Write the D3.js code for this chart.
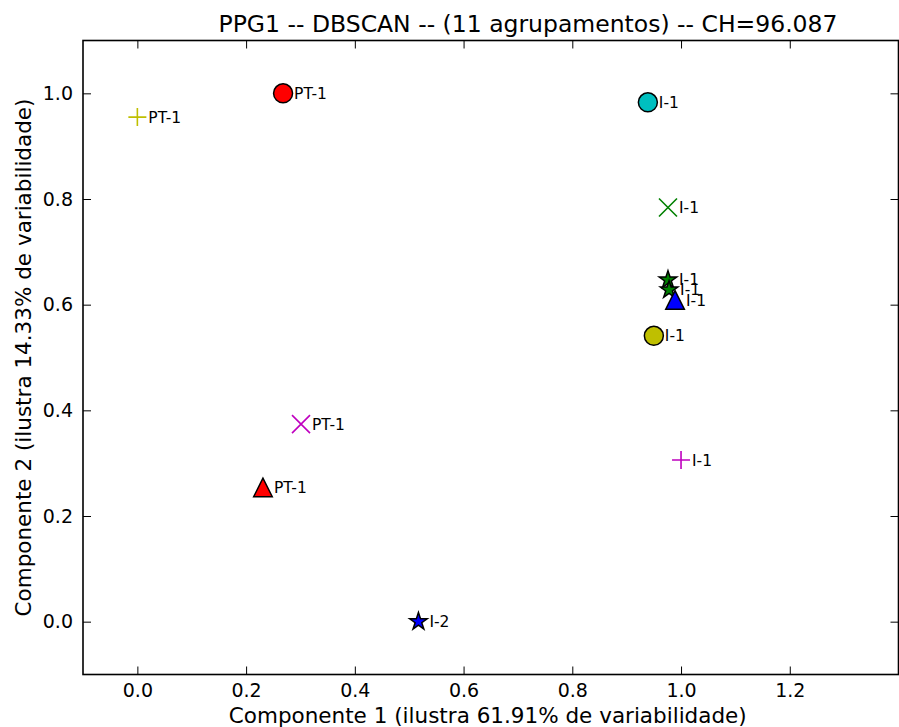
<!DOCTYPE html>
<html>
<head>
<meta charset="utf-8">
<script src="https://cdn.jsdelivr.net/npm/d3@7"></script>
<style>
  html, body { margin: 0; padding: 0; background: #fff; }
  svg { display: block; font-family: "DejaVu Sans", sans-serif; }
</style>
</head>
<body>
<svg id="chart" width="899" height="727"></svg>
<script>
// Dados dos pontos (componentes principais)
const pointX = [0.0, 0.268, 0.939, 0.976, 0.976, 0.978, 0.989, 0.950, 1.0, 0.301, 0.231, 0.517];
const pointY = [0.955, 1.0, 0.983, 0.784, 0.647, 0.628, 0.609, 0.541, 0.306, 0.374, 0.254, 0.0];
const pointLabels = ['PT-1', 'PT-1', 'I-1', 'I-1', 'I-1', 'I-1', 'I-1', 'I-1', 'I-1', 'PT-1', 'PT-1', 'I-2'];
const pointMarkers = ['plus', 'circle', 'circle', 'x', 'star', 'star', 'triangle', 'circle', 'plus', 'x', 'triangle', 'star'];
const pointColors = ['#bfbf00', '#ff0000', '#00bfbf', '#008000', '#008000', '#008000', '#0000ff', '#bfbf00', '#bf00bf', '#bf00bf', '#ff0000', '#0000ff'];

const xTicks = [0.0, 0.2, 0.4, 0.6, 0.8, 1.0, 1.2];
const yTicks = [0.0, 0.2, 0.4, 0.6, 0.8, 1.0];

const titleText = 'PPG1 -- DBSCAN -- (11 agrupamentos) -- CH=96.087';
const xLabel = 'Componente 1 (ilustra 61.91% de variabilidade)';
const yLabel = 'Componente 2 (ilustra 14.33% de variabilidade)';

// Área do gráfico
const plot = { left: 83, right: 898.5, top: 40.5, bottom: 674.5 };

const svg = d3.select('#chart');

const x = d3.scaleLinear().domain([-0.1, 1.4]).range([plot.left, plot.right]);
const y = d3.scaleLinear().domain([-0.1, 1.1]).range([plot.bottom, plot.top]);

// Eixos com ticks para dentro
const fmt = d3.format('.1f');

const axisStyle = (g, fontSize) => {
    g.select('.domain').remove();
    g.selectAll('.tick line').attr('stroke', '#000').attr('stroke-width', 1);
    g.selectAll('.tick text')
        .attr('fill', '#000')
        .style('font-size', fontSize + 'px')
        .style('font-family', '"DejaVu Sans", sans-serif');
};

svg.append('g')
    .attr('transform', `translate(0,${plot.bottom})`)
    .call(d3.axisBottom(x).tickValues(xTicks).tickFormat(fmt).tickSize(-8).tickPadding(9))
    .call(g => axisStyle(g, 19));

svg.append('g')
    .attr('transform', `translate(0,${plot.top})`)
    .call(d3.axisTop(x).tickValues(xTicks).tickFormat('').tickSize(-8))
    .call(g => axisStyle(g, 19));

svg.append('g')
    .attr('transform', `translate(${plot.left},0)`)
    .call(d3.axisLeft(y).tickValues(yTicks).tickFormat(fmt).tickSize(-8).tickPadding(10))
    .call(g => axisStyle(g, 19));

svg.append('g')
    .attr('transform', `translate(${plot.right},0)`)
    .call(d3.axisRight(y).tickValues(yTicks).tickFormat('').tickSize(-8))
    .call(g => axisStyle(g, 19));

// Moldura
svg.append('rect')
    .attr('x', plot.left)
    .attr('y', plot.top)
    .attr('width', plot.right - plot.left)
    .attr('height', plot.bottom - plot.top)
    .attr('fill', 'none')
    .attr('stroke', '#000')
    .attr('stroke-width', 1.6);

// Formas dos marcadores
function starPath(r) {
    const pts = [];
    for (let i = 0; i < 10; i++) {
        const rr = i % 2 === 0 ? r : r * 0.381966;
        const a = -Math.PI / 2 + i * Math.PI / 5;
        pts.push([rr * Math.cos(a), rr * Math.sin(a)]);
    }
    return 'M' + pts.map(p => p.join(',')).join('L') + 'Z';
}

function trianglePath(s) {
    return `M0,${-s}L${-s},${s}L${s},${s}Z`;
}

const data = pointX.map((v, i) => ({
    x: v, y: pointY[i], label: pointLabels[i], marker: pointMarkers[i], color: pointColors[i]
}));

const pts = svg.append('g').attr('class', 'points');

data.forEach(d => {
    const g = pts.append('g').attr('transform', `translate(${x(d.x)},${y(d.y)})`);
    if (d.marker === 'circle') {
        g.append('circle').attr('r', 9.5)
            .attr('fill', d.color).attr('stroke', '#000').attr('stroke-width', 1.5);
    } else if (d.marker === 'star') {
        g.append('path').attr('d', starPath(9.2))
            .attr('fill', d.color).attr('stroke', '#000').attr('stroke-width', 1.5)
            .attr('stroke-linejoin', 'miter');
    } else if (d.marker === 'triangle') {
        g.append('path').attr('d', trianglePath(9.3))
            .attr('fill', d.color).attr('stroke', '#000').attr('stroke-width', 1.5);
    } else if (d.marker === 'plus') {
        g.append('path').attr('d', 'M-9,0L9,0M0,-9L0,9')
            .attr('stroke', d.color).attr('stroke-width', 1.6).attr('fill', 'none');
    } else if (d.marker === 'x') {
        g.append('path').attr('d', 'M-9,-9L9,9M-9,9L9,-9')
            .attr('stroke', d.color).attr('stroke-width', 1.6).attr('fill', 'none');
    }
    g.append('text')
        .attr('x', 11)
        .attr('y', 5.6)
        .attr('fill', '#000')
        .style('font-size', '15.5px')
        .text(d.label);
});

// Títulos
svg.append('text')
    .attr('x', 528)
    .attr('y', 31.5)
    .attr('text-anchor', 'middle')
    .style('font-size', '23.5px')
    .attr('fill', '#000')
    .text(titleText);

svg.append('text')
    .attr('x', (plot.left + plot.right) / 2 - 3)
    .attr('y', 723)
    .attr('text-anchor', 'middle')
    .style('font-size', '21.5px')
    .attr('fill', '#000')
    .text(xLabel);

svg.append('text')
    .attr('transform', `translate(31,${(plot.top + plot.bottom) / 2}) rotate(-90)`)
    .attr('text-anchor', 'middle')
    .style('font-size', '21.5px')
    .attr('fill', '#000')
    .text(yLabel);
</script>
</body>
</html>
